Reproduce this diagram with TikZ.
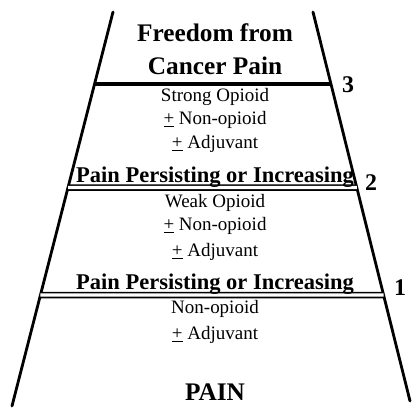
\documentclass[tikz,border=0pt]{standalone}
\usepackage{fontspec}
\setmainfont{Liberation Serif}
\usepackage{tikz}
\usetikzlibrary{calc}

\tikzset{
  side/.style={line width=2pt, line cap=round},
  rung/.style={double, line width=1.1pt, double distance=2.4pt},
  toprung/.style={line width=2.6pt},
  drug/.style={anchor=base, inner sep=0pt, font=\fontsize{13.5}{15}\selectfont},
  goal/.style={anchor=base, inner sep=0pt, font=\fontsize{18}{20}\selectfont\bfseries},
  cue/.style={anchor=base, inner sep=0pt, font=\fontsize{16}{18}\selectfont\bfseries},
  stepno/.style={inner sep=0pt, font=\fontsize{17}{19}\selectfont\bfseries},
}
\newcommand{\plusminus}{\underline{+}}

\begin{document}
\begin{tikzpicture}[x=0.025cm, y=-0.025cm]
  \useasboundingbox (0,0) rectangle (412,408);
  % ladder sides
  \coordinate (lt) at (113,12);
  \coordinate (lb) at (12,406);
  \coordinate (rt) at (313,12);
  \coordinate (rb) at (410,401);
  \draw[side] (lt) -- (lb);
  \draw[side] (rt) -- (rb);
  % rungs
  \foreach \lvl/\yy in {3/84, 2/187.5, 1/295} {
    \coordinate (l\lvl) at (intersection of lt--lb and 0,\yy--1,\yy);
    \coordinate (r\lvl) at (intersection of rt--rb and 0,\yy--1,\yy);
  }
  \draw[toprung] (l3) -- (r3);
  \draw[rung] (l2) -- (r2);
  \draw[rung] (l1) -- (r1);
  % top
  \node[goal] (free) at (215,41) {Freedom from};
  \node[goal] (cancer) at (215,74) {Cancer Pain};
  \node[stepno] (n3) at (348,85) {3};
  % step 3
  \node[drug] (strong) at (215,101) {Strong Opioid};
  \node[drug] (nonop3) at (215,124) {\plusminus\ Non-opioid};
  \node[drug] (adj3) at (215,148) {\plusminus\ Adjuvant};
  \node[cue] (pers2) at (215,182) {Pain Persisting or Increasing};
  \node[stepno] (n2) at (371,183) {2};
  % step 2
  \node[drug] (weak) at (215,207) {Weak Opioid};
  \node[drug] (nonop2) at (215,230) {\plusminus\ Non-opioid};
  \node[drug] (adj2) at (215,256) {\plusminus\ Adjuvant};
  \node[cue] (pers1) at (215,289) {Pain Persisting or Increasing};
  \node[stepno] (n1) at (400,288) {1};
  % step 1
  \node[drug] (nonop1) at (215,313) {Non-opioid};
  \node[drug] (adj1) at (215,339) {\plusminus\ Adjuvant};
  \node[goal] (pain) at (215,400) {PAIN};
\end{tikzpicture}
\end{document}
